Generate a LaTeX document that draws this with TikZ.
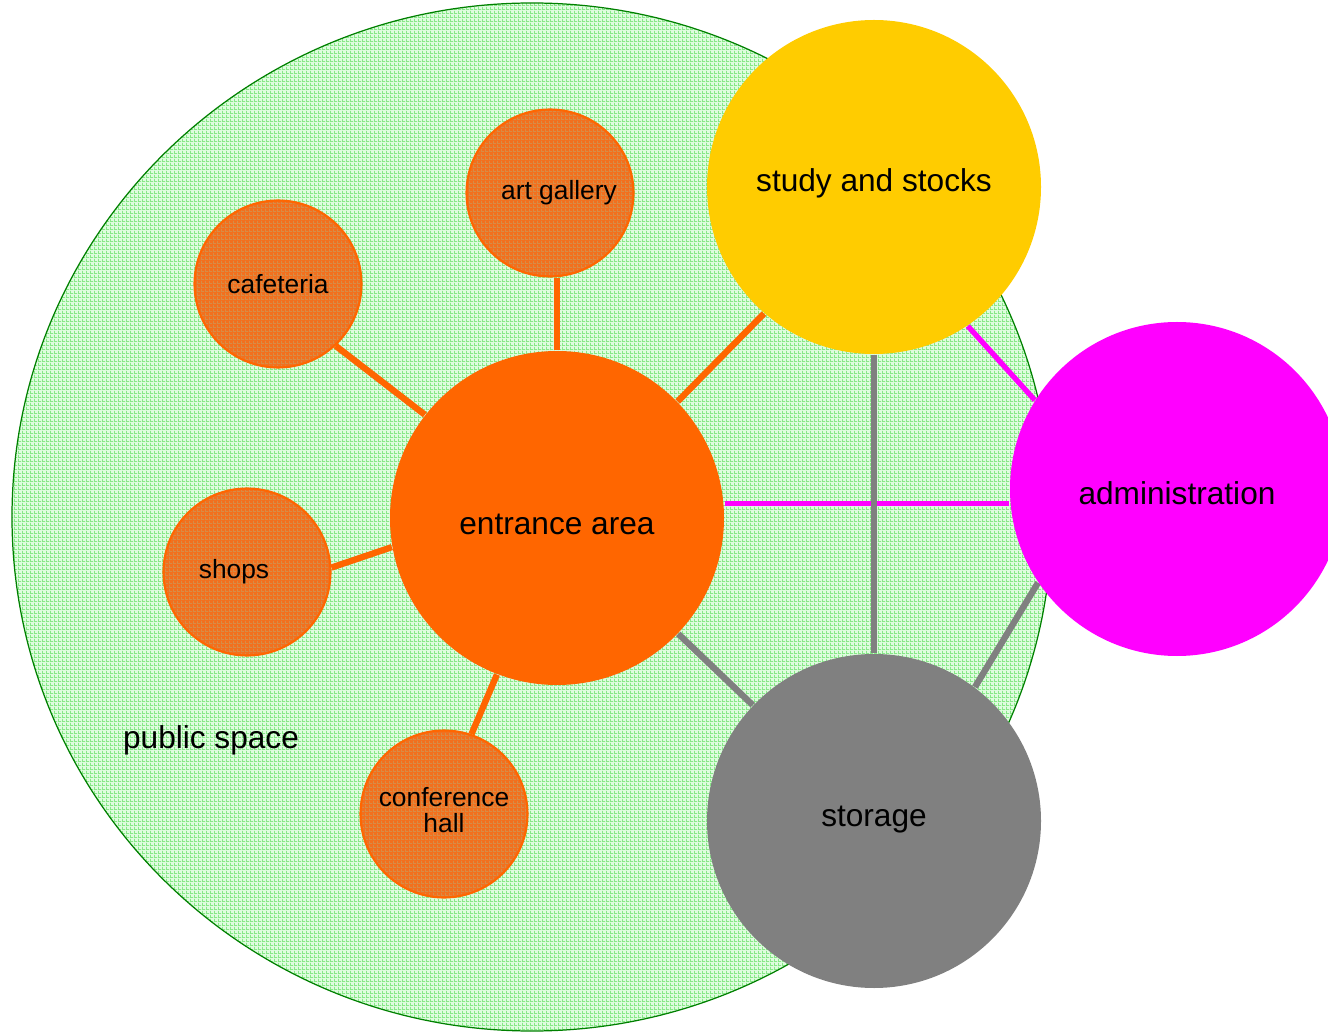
\documentclass[tikz,border=0pt]{standalone}
\usepackage{fontspec}
\setmainfont{Liberation Sans}
\usetikzlibrary{patterns}
\definecolor{pgreen}{RGB}{222,252,222}
\definecolor{gline}{RGB}{135,232,135}
\definecolor{eorange}{RGB}{255,102,0}
\definecolor{sorange}{RGB}{242,112,30}
\definecolor{oline}{RGB}{215,140,70}
\definecolor{syellow}{RGB}{255,204,0}
\definecolor{amagenta}{RGB}{255,0,255}
\definecolor{sgray}{RGB}{128,128,128}
\pgfdeclarepatternformonly{finegrid}{\pgfpointorigin}{\pgfqpoint{1pt}{1pt}}{\pgfqpoint{1pt}{1pt}}{
	\pgfpathrectangle{\pgfpointorigin}{\pgfqpoint{1pt}{0.3pt}}
	\pgfpathrectangle{\pgfpointorigin}{\pgfqpoint{0.3pt}{1pt}}
	\pgfusepath{fill}
}

\begin{document}
\begin{tikzpicture}[
	big/.style={circle, minimum size=3.34cm, inner sep=0pt, font=\fontsize{9}{10}\selectfont},
	small/.style={circle, minimum size=1.67cm, inner sep=0pt, draw=eorange, line width=0.6pt,
		fill=sorange},
	stext/.style={font=\fontsize{7.5}{7.2}\selectfont, align=center},
	olink/.style={draw=eorange, line width=1.8pt},
	mlink/.style={draw=amagenta, line width=1.5pt},
	glink/.style={draw=sgray, line width=1.8pt}
]
	\useasboundingbox (0,0) rectangle (13.28,10.33);
	\clip (0,0) rectangle (13.28,10.33);
	\fill[pgreen] (5.32,5.16) ellipse [x radius=5.20, y radius=5.14];
	\path[pattern=finegrid, pattern color=gline] (5.32,5.16) ellipse [x radius=5.20, y radius=5.14];
	\draw[green!50!black, line width=0.35pt] (5.32,5.16) ellipse [x radius=5.20, y radius=5.14];
	\node[font=\fontsize{9}{10}\selectfont] (ps) at (2.11,2.93) {public space};

	\node[big] (entrance) at (5.57,5.15) {};
	\node[big] (study) at (8.74,8.46) {};
	\node[big] (admin) at (11.77,5.44) {};
	\node[big] (storage) at (8.74,2.12) {};
	\node[small] (art) at (5.50,8.40) {};
	\node[small] (cafe) at (2.78,7.49) {};
	\node[small] (shops) at (2.47,4.61) {};
	\node[small] (conf) at (4.44,2.19) {};
	\path[pattern=finegrid, pattern color=oline] (art) circle (0.82) (cafe) circle (0.82)
		(shops) circle (0.82) (conf) circle (0.82);

	\draw[olink] (entrance.north) -- (entrance.north |- art.south);
	\draw[olink] (cafe.-47) -- (entrance.142);
	\draw[olink] (shops.3) -- (entrance.190);
	\draw[olink] (conf.71) -- (entrance.249);
	\draw[olink] (entrance.44) -- (study.229);
	\path (entrance.east) -- (admin.west) coordinate[midway] (mid);
	\draw[mlink] (entrance.east |- mid) -- (admin.west |- mid);
	\draw[mlink] (study.-56) -- (admin.148);
	\draw[glink] (study) -- (storage);
	\draw[glink] (entrance) -- (storage);
	\draw[glink] (admin.214) -- (storage.53);

	\node[big, fill=eorange] at (entrance) {};
	\node[big, fill=syellow] at (study) {};
	\node[big, fill=amagenta] at (admin) {};
	\node[big, fill=sgray] at (storage) {};
	\node[big] at ([yshift=-0.06cm]entrance) {entrance area};
	\node[big] at ([yshift=0.04cm]study) {study and stocks};
	\node[big] at ([yshift=-0.04cm]admin) {administration};
	\node[big] at ([yshift=0.01cm]storage) {storage};
	\node[stext] at ([xshift=0.09cm]art) {art gallery};
	\node[stext] at (cafe) {cafeteria};
	\node[stext] at ([xshift=-0.13cm]shops) {shops};
	\node[stext] at ([yshift=0.04cm]conf) {conference\\hall};
\end{tikzpicture}
\end{document}
